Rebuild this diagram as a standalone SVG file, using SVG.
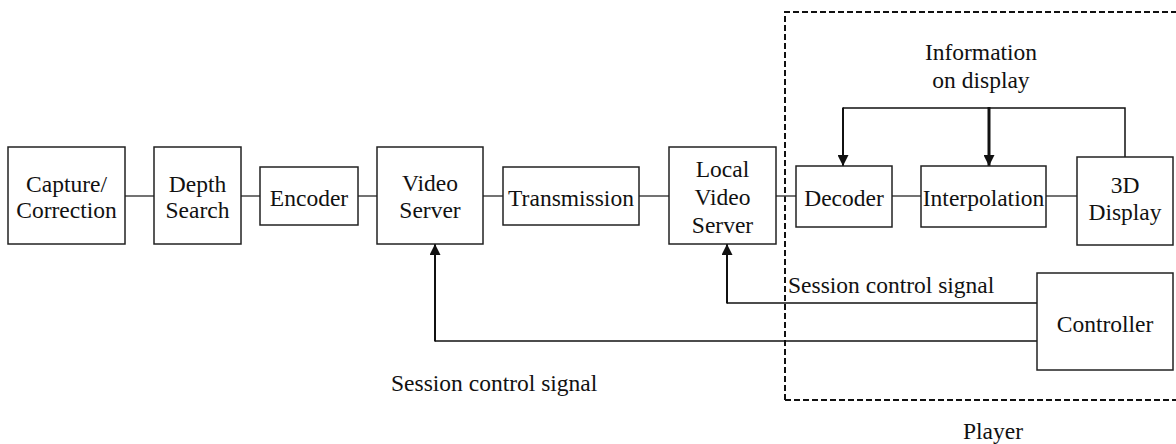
<svg xmlns="http://www.w3.org/2000/svg" width="1176" height="444" viewBox="0 0 1176 444" font-family="'Liberation Serif', 'Times New Roman', Times, serif">
  <style>
    .box { fill: #fff; stroke: #222; stroke-width: 1.5; }
    text { font-family: 'Liberation Serif', 'Times New Roman', Times, serif; font-size: 23.5px; fill: #111; }
    .t { text-anchor: middle; }
    .ln { stroke: #444; stroke-width: 1.5; fill: none; }
    .ctl { stroke: #111; stroke-width: 1.5; fill: none; }
    .dash { stroke: #111; stroke-width: 2; fill: none; stroke-dasharray: 6 3; }
  </style>
  <defs>
    <marker id="ah" viewBox="0 0 10 10" refX="10" refY="5" markerWidth="11" markerHeight="11" markerUnits="userSpaceOnUse" orient="auto">
      <path d="M0,0 L10,5 L0,10 Z" fill="#111"/>
    </marker>
  </defs>
  <rect width="1176" height="444" fill="#fff"/>

  <g id="player-frame">
    <path class="dash" d="M785,400 V12 H1178"/>
    <path class="dash" d="M785,400 H1178"/>
    <text class="t" x="993" y="439">Player</text>
  </g>

  <g id="connectors">
    <line class="ln" x1="125" y1="196" x2="154" y2="196"/>
    <line class="ln" x1="241" y1="196" x2="260" y2="196"/>
    <line class="ln" x1="358" y1="196" x2="377" y2="196"/>
    <line class="ln" x1="483" y1="196" x2="503" y2="196"/>
    <line class="ln" x1="639" y1="196" x2="669" y2="196"/>
    <line class="ln" x1="776" y1="196" x2="796" y2="196"/>
    <line class="ln" x1="892" y1="196" x2="921" y2="196"/>
    <line class="ln" x1="1046" y1="196" x2="1077" y2="196"/>
    <polyline class="ctl" points="1125,157 1125,108 843,108"/>
    <line stroke="#111" stroke-width="2" x1="843" y1="107.5" x2="843" y2="166" marker-end="url(#ah)"/>
    <line stroke="#111" stroke-width="3" x1="989" y1="107" x2="989" y2="166" marker-end="url(#ah)"/>
    <polyline class="ctl" points="1037,303 727,303"/>
    <line stroke="#111" stroke-width="2" x1="727" y1="303.5" x2="727" y2="244" marker-end="url(#ah)"/>
    <polyline class="ctl" points="1037,341 435,341"/>
    <line stroke="#111" stroke-width="2" x1="435" y1="341.5" x2="435" y2="244" marker-end="url(#ah)"/>
    <text x="788" y="293">Session control signal</text>
    <text x="391" y="391">Session control signal</text>
    <text class="t" x="981" y="60">Information</text>
    <text class="t" x="981" y="88">on display</text>
  </g>

  <g id="capture">
    <rect class="box" x="8" y="147" width="117" height="97"/>
    <text class="t" x="66.5" y="192">Capture/</text>
    <text class="t" x="66.5" y="218">Correction</text>
  </g>
  <g id="depth-search">
    <rect class="box" x="154" y="147" width="87" height="97"/>
    <text class="t" x="197.5" y="192">Depth</text>
    <text class="t" x="197.5" y="218">Search</text>
  </g>
  <g id="encoder">
    <rect class="box" x="260" y="167" width="98" height="58"/>
    <text class="t" x="309" y="206">Encoder</text>
  </g>
  <g id="video-server">
    <rect class="box" x="377" y="147" width="106" height="97"/>
    <text class="t" x="430" y="191">Video</text>
    <text class="t" x="430" y="218">Server</text>
  </g>
  <g id="transmission">
    <rect class="box" x="503" y="167" width="136" height="58"/>
    <text class="t" x="571" y="206">Transmission</text>
  </g>
  <g id="local-video-server">
    <rect class="box" x="669" y="147" width="107" height="97"/>
    <text class="t" x="722.5" y="177">Local</text>
    <text class="t" x="722.5" y="205">Video</text>
    <text class="t" x="722.5" y="233">Server</text>
  </g>
  <g id="decoder">
    <rect class="box" x="796" y="166" width="96" height="61"/>
    <text class="t" x="844" y="206">Decoder</text>
  </g>
  <g id="interpolation">
    <rect class="box" x="921" y="166" width="125" height="61"/>
    <text class="t" x="983.5" y="206">Interpolation</text>
  </g>
  <g id="display-3d">
    <rect class="box" x="1077" y="157" width="96" height="88"/>
    <text class="t" x="1125" y="193">3D</text>
    <text class="t" x="1125" y="220">Display</text>
  </g>
  <g id="controller">
    <rect class="box" x="1037" y="273" width="136" height="97"/>
    <text class="t" x="1105" y="332">Controller</text>
  </g>
</svg>
